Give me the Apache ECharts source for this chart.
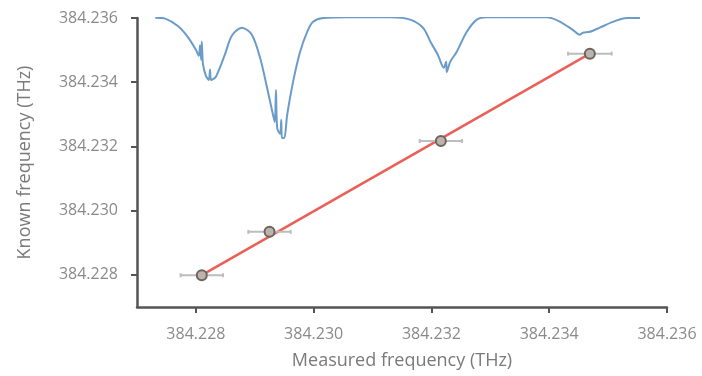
<!DOCTYPE html>
<html>
<head>
<meta charset="utf-8">
<script src="https://cdn.jsdelivr.net/npm/echarts@6/dist/echarts.min.js"></script>
<style>html,body{margin:0;padding:0;background:#fff}#c{width:702px;height:376px}</style>
</head>
<body>
<div id="c"></div>
<script>
// Tick labels
const xTicks = [384.228, 384.230, 384.232, 384.234, 384.236];
const yTicks = [384.228, 384.230, 384.232, 384.234, 384.236];

// Measured vs known frequency points (THz)
const measured = [384.22810, 384.22925, 384.23216, 384.23469];
const known    = [384.22799, 384.22934, 384.23217, 384.23489];
const measuredErr = [0.00036, 0.00036, 0.00036, 0.00037];

// Linear fit endpoints
const fitX = [384.22810, 384.23469];
const fitY = [384.22799, 384.23489];

// Spectrum trace (drawn in the same coordinates)
const specX = [384.22731,384.22748,384.22770,384.22787,384.22800,384.22805,384.22807,384.22809,384.22810,384.22812,
  384.22817,384.22822,384.22824,384.22826,384.22834,384.22849,384.22861,384.22878,384.22895,384.22909,
  384.22921,384.22931,384.22934,384.22936,384.22938,384.22943,384.22945,384.22946,384.22950,384.22955,
  384.22965,384.22977,384.22989,384.22999,384.23016,384.23057,384.23130,384.23164,384.23186,384.23198,
  384.23211,384.23221,384.23225,384.23226,384.23232,384.23243,384.23260,384.23277,384.23294,384.23396,
  384.23418,384.23440,384.23452,384.23457,384.23469,384.23486,384.23508,384.23532,384.23554];
const specY = [384.23601,384.23598,384.23574,384.23539,384.23501,384.23482,384.23514,384.23470,384.23526,384.23457,
  384.23420,384.23407,384.23439,384.23407,384.23417,384.23485,384.23545,384.23570,384.23548,384.23476,
  384.23382,384.23298,384.23276,384.23376,384.23258,384.23239,384.23283,384.23226,384.23226,384.23298,
  384.23401,384.23495,384.23557,384.23588,384.23600,384.23602,384.23602,384.23595,384.23569,384.23527,
  384.23485,384.23445,384.23464,384.23432,384.23464,384.23495,384.23557,384.23595,384.23602,384.23602,
  384.23589,384.23563,384.23548,384.23554,384.23557,384.23570,384.23588,384.23600,384.23600];

const chart = echarts.init(document.getElementById('c'), null, {renderer: 'canvas'});
const axisColor = '#555';
const labelColor = '#8a8a8a';
const font = '"Open Sans", "Noto Sans", sans-serif';

const pts = measured.map((x, i) => [x, known[i], measuredErr[i]]);

chart.setOption({
  animation: false,
  backgroundColor: '#fff',
  grid: {left: 137, right: 35, top: 18, bottom: 69, containLabel: false},
  xAxis: {
    type: 'value', min: 384.227, max: 384.236,
    name: 'Measured frequency (THz)', nameLocation: 'middle', nameGap: 45,
    nameTextStyle: {color: '#7a7a7a', fontSize: 18, fontFamily: font},
    axisLine: {show: true, lineStyle: {color: axisColor, width: 2.5}},
    axisTick: {show: true, length: 6, lineStyle: {color: axisColor, width: 2}, customValues: xTicks},
    axisLabel: {color: labelColor, fontSize: 16, fontFamily: font, margin: 19, customValues: xTicks,
      formatter: v => Number(v).toFixed(3)},
    splitLine: {show: false}
  },
  yAxis: {
    type: 'value', min: 384.227, max: 384.236,
    name: 'Known frequency (THz)', nameLocation: 'middle', nameGap: 103, nameRotate: 90,
    nameTextStyle: {color: '#7a7a7a', fontSize: 18, fontFamily: font},
    axisLine: {show: true, lineStyle: {color: axisColor, width: 2.5}},
    axisTick: {show: true, length: 6, lineStyle: {color: axisColor, width: 2}, customValues: yTicks},
    axisLabel: {color: labelColor, fontSize: 16, fontFamily: font, margin: 19, customValues: yTicks,
      formatter: v => Number(v).toFixed(3)},
    splitLine: {show: false}
  },
  series: [
    {
      type: 'line', data: specX.map((x, i) => [x, specY[i]]),
      showSymbol: false, smooth: 0.3,
      lineStyle: {color: '#6b9bc9', width: 2}, z: 2
    },
    {
      type: 'line', data: fitX.map((x, i) => [x, fitY[i]]),
      showSymbol: false,
      lineStyle: {color: '#eb5f58', width: 2.5}, z: 3
    },
    {
      type: 'custom', data: pts, z: 4,
      renderItem: function (params, api) {
        const x = api.value(0), y = api.value(1), e = api.value(2);
        const a = api.coord([x - e, y]), b = api.coord([x + e, y]);
        const st = {stroke: '#bdbdbd', lineWidth: 2};
        return {type: 'group', children: [
          {type: 'line', shape: {x1: a[0], y1: a[1], x2: b[0], y2: b[1]}, style: st},
          {type: 'line', shape: {x1: a[0], y1: a[1] - 2, x2: a[0], y2: a[1] + 2}, style: st},
          {type: 'line', shape: {x1: b[0], y1: b[1] - 2, x2: b[0], y2: b[1] + 2}, style: st}
        ]};
      }
    },
    {
      type: 'scatter', data: pts.map(p => [p[0], p[1]]), z: 5,
      symbol: 'circle', symbolSize: 10,
      itemStyle: {color: '#bdb3aa', borderColor: '#6a6560', borderWidth: 2, opacity: 1}
    }
  ]
});
</script>
</body>
</html>
